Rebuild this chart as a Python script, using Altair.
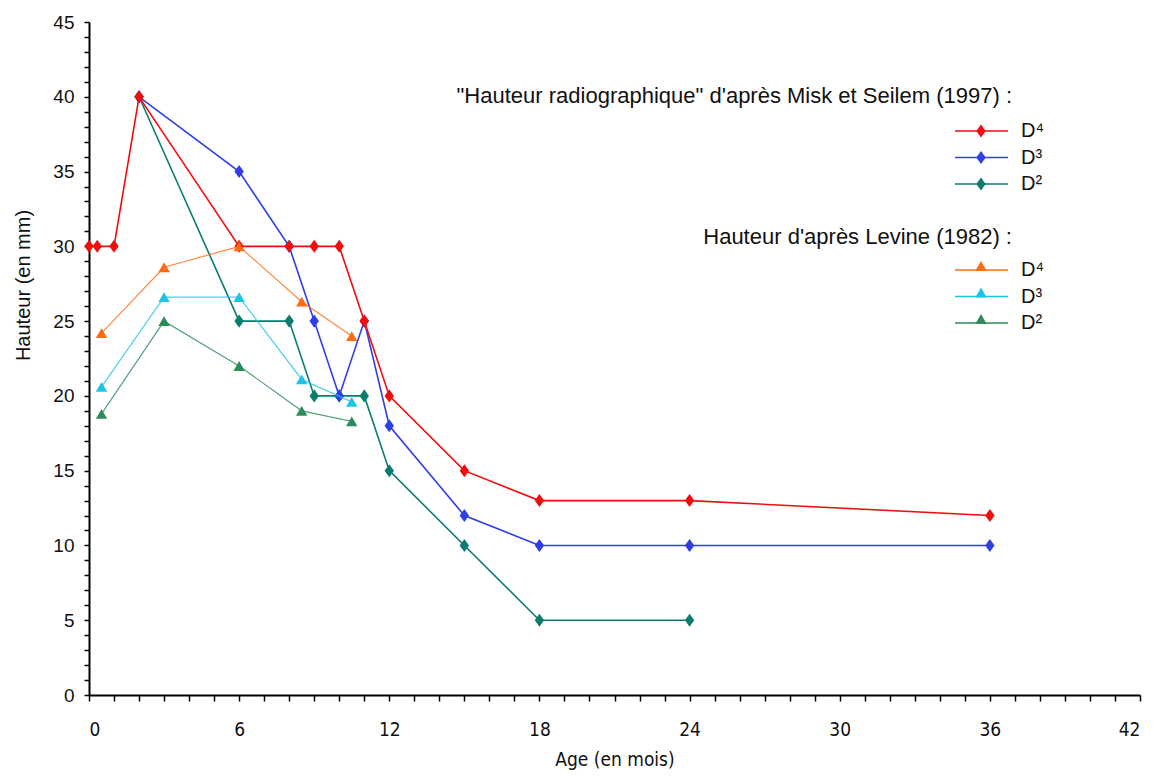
import altair as alt
import pandas as pd

# ---- data ----
misk_series = ["D⁴", "D³", "D²"]
misk_colors = ["#f20d0d", "#2f3fe8", "#0a7d6e"]
misk_d4_age = [0, 0.33, 1, 2, 6, 8, 9, 10, 11, 12, 15, 18, 24, 36]
misk_d4_h = [30, 30, 30, 40, 30, 30, 30, 30, 25, 20, 15, 13, 13, 12]
misk_d3_age = [2, 6, 8, 9, 10, 11, 12, 15, 18, 24, 36]
misk_d3_h = [40, 35, 30, 25, 20, 25, 18, 12, 10, 10, 10]
misk_d2_age = [2, 6, 8, 9, 10, 11, 12, 15, 18, 24]
misk_d2_h = [40, 25, 25, 20, 20, 20, 15, 10, 5, 5]

levine_series = ["D⁴", "D³", "D²"]
levine_colors = ["#ff6a13", "#1cc4e6", "#2e8b5a"]
levine_age = [0.5, 3, 6, 8.5, 10.5]
levine_d4_h = [24.2, 28.6, 30, 26.3, 24.0]
levine_d3_h = [20.6, 26.6, 26.6, 21.1, 19.6]
levine_d2_h = [18.8, 25.0, 22.0, 19.0, 18.3]

misk_title = "\"Hauteur radiographique\" d'après Misk et Seilem (1997) :"
levine_title = "Hauteur d'après Levine (1982) :"

x_ticks = list(range(0, 43))
y_ticks = list(range(0, 46))

# ---- tables ----
rows = []
for order, (name, col, ages, hs) in enumerate([
    ("D²", misk_colors[2], misk_d2_age, misk_d2_h),
    ("D³", misk_colors[1], misk_d3_age, misk_d3_h),
    ("D⁴", misk_colors[0], misk_d4_age, misk_d4_h),
]):
    for a, h in zip(ages, hs):
        rows.append({"serie": "Misk " + name, "col": col, "age": a, "h": h, "ord": order})
misk_df = pd.DataFrame(rows)

rows = []
for order, (name, col, hs) in enumerate([
    ("D²", levine_colors[2], levine_d2_h),
    ("D³", levine_colors[1], levine_d3_h),
    ("D⁴", levine_colors[0], levine_d4_h),
]):
    for a, h in zip(levine_age, hs):
        rows.append({"serie": "Levine " + name, "col": col, "age": a, "h": h, "ord": order})
lev_df = pd.DataFrame(rows)

# legend table (pixel positions inside plot area)
leg_rows = []
for i, (n, c) in enumerate(zip(misk_series, misk_colors)):
    leg_rows.append({"label": n, "col": c, "ly": 109 + i * 26.5, "grp": "misk"})
for i, (n, c) in enumerate(zip(levine_series, levine_colors)):
    leg_rows.append({"label": n, "col": c, "ly": 248 + i * 26.5, "grp": "lev"})
leg_df = pd.DataFrame(leg_rows)
leg_titles = pd.DataFrame({"t": [misk_title, levine_title], "ty": [74, 215]})

diamond = "M0,-1L0.72,0L0,1L-0.72,0Z"

X = alt.X("age:Q", scale=alt.Scale(domain=[0, 42], nice=False),
          axis=alt.Axis(values=x_ticks, labelExpr="datum.value % 6 == 0 ? datum.label : ''",
                        title="Age (en mois)", tickSize=6, tickWidth=1.5,
                        labelFont="Liberation Sans Narrow, DejaVu Sans Condensed, Liberation Sans",
                        labelFontSize=19, labelPadding=19,
                        titleFont="Liberation Sans Narrow, DejaVu Sans Condensed, Liberation Sans",
                        titleFontSize=19, titleFontWeight="normal", titlePadding=11,
                        domainWidth=2, domainColor="black", tickColor="black",
                        labelColor="#111", titleColor="#111", grid=False))
Y = alt.Y("h:Q", scale=alt.Scale(domain=[0, 45], nice=False),
          axis=alt.Axis(values=y_ticks, labelExpr="datum.value % 5 == 0 ? datum.label : ''",
                        title="Hauteur (en mm)", tickSize=5, tickWidth=1.5,
                        labelFont="Liberation Sans", labelFontSize=19, labelPadding=10,
                        titleFont="Liberation Sans", titleFontSize=20, titleFontWeight="normal",
                        titleX=-66, titleY=263, titleBaseline="middle",
                        domainWidth=2, domainColor="black", tickColor="black",
                        labelColor="#111", titleColor="#111", grid=False))
C = alt.Color("col:N", scale=None)

misk_lines = alt.Chart(misk_df).mark_line(strokeWidth=1.6).encode(
    x=X, y=Y, color=C, detail="serie:N", order="age:Q")
misk_pts = alt.Chart(misk_df).mark_point(shape=diamond, filled=True, size=170, opacity=1).encode(
    x=X, y=Y, color=C, order="ord:Q")
lev_lines = alt.Chart(lev_df).mark_line(strokeWidth=1.2, opacity=0.8).encode(
    x=X, y=Y, color=C, detail="serie:N", order="age:Q")
lev_pts = alt.Chart(lev_df).mark_point(shape="triangle-up", filled=True, size=130, opacity=1).encode(
    x=X, y=Y, color=C, order="ord:Q")

LY = alt.Y("ly:Q", scale=None, axis=None)
leg_line = alt.Chart(leg_df).mark_rule(strokeWidth=1.4).encode(
    x=alt.value(866), x2=alt.value(919), y=LY, color=C)
leg_misk_sym = alt.Chart(leg_df).transform_filter("datum.grp == 'misk'").mark_point(
    shape=diamond, filled=True, size=170, opacity=1).encode(x=alt.value(892), y=LY, color=C)
leg_lev_sym = alt.Chart(leg_df).transform_filter("datum.grp == 'lev'").mark_point(
    shape="triangle-up", filled=True, size=130, opacity=1, yOffset=-4).encode(
    x=alt.value(892), y=LY, color=C)
leg_text = alt.Chart(leg_df).mark_text(
    align="left", baseline="middle", font="Liberation Sans", fontSize=20, color="#111").encode(
    x=alt.value(932), y=LY, text="label:N")
leg_title = alt.Chart(leg_titles).mark_text(
    align="right", baseline="middle", font="Liberation Sans", fontSize=22, color="#111").encode(
    x=alt.value(923), y=alt.Y("ty:Q", scale=None, axis=None), text="t:N")

chart = alt.layer(
    misk_lines, misk_pts, lev_lines, lev_pts,
    leg_line, leg_misk_sym, leg_lev_sym, leg_text, leg_title
).properties(
    width=1051, height=673,
    autosize=alt.AutoSizeParams(type="none"),
    padding={"left": 81, "top": 14, "right": 5, "bottom": 77},
    background="white",
).configure_view(stroke=None)

chart.save("out.html", embed_options={"renderer": "svg", "actions": False})
